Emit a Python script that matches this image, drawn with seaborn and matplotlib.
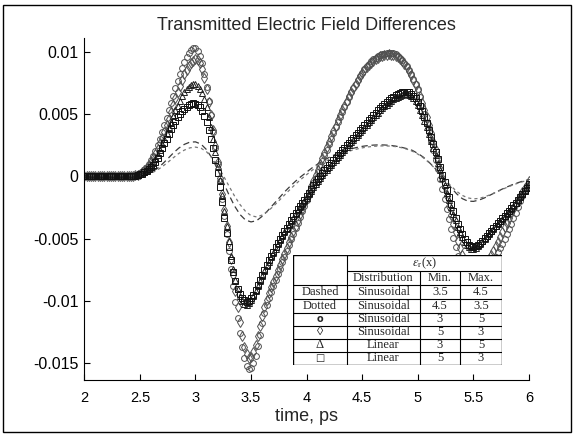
import numpy as np
import matplotlib
matplotlib.use("Agg")
import matplotlib.pyplot as plt
from matplotlib.patches import Rectangle
import seaborn as sns

# ---------------------------------------------------------------------------
# Data: transmitted field differences, sampled every 0.02 ps (markers) and
# every 0.05 ps (lines). Values are in units of 1e-3.
# ---------------------------------------------------------------------------
marker_time = np.round(np.linspace(2.0, 6.0, 201), 2)
line_time = np.round(np.linspace(2.0, 6.0, 81), 2)
FIELD_UNIT = 1e-3

# sinusoidal profile, min 3 / max 5 (circles)
sin_3_5 = [
    0, 0, 0, 0, 0, 0, 0, 0, 0, 0,
    0, 0, 0, 0, 0, 0, 0, 0, 0, 0,
    0.0, 0.02, 0.05, 0.09, 0.15, 0.25, 0.38, 0.55, 0.75, 1.0,
    1.3, 1.65, 2.05, 2.5, 3.0, 3.55, 4.1, 4.7, 5.3, 5.9,
    6.5, 7.1, 7.7, 8.25, 8.75, 9.2, 9.6, 9.9, 10.15, 10.3,
    10.3, 10.1, 9.7, 9.1, 8.2, 7.2, 6.1, 4.9, 3.6, 2.3,
    1.0, -0.4, -1.8, -3.2, -4.6, -6.0, -7.4, -8.8, -10.1, -11.4,
    -12.6, -13.7, -14.6, -15.2, -15.5, -15.4, -15.0, -14.4, -13.6, -12.7,
    -11.8, -10.95, -10.3, -9.75, -9.25, -8.8, -8.3, -7.85, -7.4, -6.9,
    -6.45, -6.0, -5.5, -5.05, -4.6, -4.15, -3.7, -3.25, -2.8, -2.35,
    -1.9, -1.45, -1.0, -0.55, -0.1, 0.35, 0.8, 1.25, 1.7, 2.15,
    2.6, 3.05, 3.5, 3.95, 4.4, 4.8, 5.2, 5.6, 6.0, 6.4,
    6.75, 7.1, 7.45, 7.75, 8.05, 8.35, 8.6, 8.85, 9.05, 9.25,
    9.4, 9.55, 9.65, 9.75, 9.82, 9.87, 9.9, 9.92, 9.92, 9.88,
    9.8, 9.68, 9.52, 9.33, 9.1, 8.85, 8.55, 8.2, 7.85, 7.45,
    7.0, 6.35, 5.7, 5.0, 4.3, 3.6, 2.85, 2.1, 1.35, 0.6,
    -0.2, -1.0, -1.8, -2.6, -3.4, -4.2, -4.95, -5.7, -6.4, -7.0,
    -7.5, -7.9, -8.2, -8.4, -8.5, -8.55, -8.55, -8.5, -8.4, -8.2,
    -8.0, -7.75, -7.45, -7.15, -6.8, -6.45, -6.1, -5.75, -5.4, -5.0,
    -4.6, -4.2, -3.8, -3.35, -2.9, -2.45, -2.0, -1.6, -1.2, -0.8,
    -0.45,
]

# sinusoidal profile, min 5 / max 3 (diamonds)
sin_5_3 = [
    0, 0, 0, 0, 0, 0, 0, 0, 0, 0,
    0, 0, 0, 0, 0, 0, 0, 0, 0, 0,
    0.0, 0.02, 0.05, 0.09, 0.14, 0.22, 0.33, 0.48, 0.66, 0.88,
    1.15, 1.45, 1.8, 2.2, 2.65, 3.1, 3.6, 4.1, 4.65, 5.2,
    5.75, 6.3, 6.8, 7.3, 7.75, 8.2, 8.55, 8.85, 9.1, 9.3,
    9.4, 9.35, 9.1, 8.6, 7.9, 7.0, 6.0, 4.9, 3.7, 2.45,
    1.2, -0.1, -1.4, -2.7, -4.0, -5.3, -6.6, -7.9, -9.2, -10.5,
    -11.7, -12.8, -13.7, -14.3, -14.6, -14.5, -14.1, -13.5, -12.8, -12.0,
    -11.2, -10.5, -9.9, -9.4, -8.9, -8.45, -8.0, -7.55, -7.1, -6.65,
    -6.2, -5.75, -5.3, -4.85, -4.4, -3.95, -3.5, -3.05, -2.6, -2.15,
    -1.7, -1.25, -0.8, -0.35, 0.1, 0.55, 1.0, 1.45, 1.9, 2.35,
    2.8, 3.22, 3.65, 4.07, 4.5, 4.9, 5.3, 5.7, 6.08, 6.45,
    6.8, 7.14, 7.46, 7.76, 8.04, 8.3, 8.54, 8.76, 8.96, 9.14,
    9.3, 9.43, 9.55, 9.64, 9.71, 9.76, 9.79, 9.8, 9.79, 9.75,
    9.68, 9.58, 9.44, 9.26, 9.04, 8.78, 8.48, 8.14, 7.77, 7.37,
    6.93, 6.45, 5.93, 5.37, 4.77, 4.14, 3.48, 2.8, 2.1, 1.38,
    0.64, -0.1, -0.85, -1.6, -2.35, -3.08, -3.8, -4.5, -5.15, -5.75,
    -6.3, -6.78, -7.18, -7.5, -7.72, -7.85, -7.9, -7.85, -7.72, -7.52,
    -7.27, -6.98, -6.66, -6.32, -5.97, -5.6, -5.23, -4.85, -4.47, -4.09,
    -3.71, -3.34, -2.97, -2.6, -2.25, -1.9, -1.57, -1.25, -0.95, -0.67,
    -0.4,
]

# linear profile, min 3 / max 5 (triangles)
lin_3_5 = [
    0, 0, 0, 0, 0, 0, 0, 0, 0, 0,
    0, 0, 0, 0, 0, 0, 0, 0, 0, 0,
    0.0, 0.02, 0.04, 0.08, 0.12, 0.18, 0.26, 0.36, 0.5, 0.66,
    0.86, 1.1, 1.4, 1.75, 2.15, 2.6, 3.05, 3.5, 3.95, 4.4,
    4.85, 5.3, 5.7, 6.1, 6.45, 6.75, 7.0, 7.2, 7.33, 7.4,
    7.4, 7.3, 7.05, 6.7, 6.2, 5.55, 4.8, 3.95, 3.0, 1.95,
    0.85, -0.3, -1.5, -2.75, -4.0, -5.2, -6.35, -7.4, -8.3, -9.05,
    -9.6, -10.0, -10.25, -10.3, -10.2, -9.95, -9.6, -9.2, -8.8, -8.4,
    -8.0, -7.6, -7.2, -6.85, -6.5, -6.15, -5.8, -5.45, -5.1, -4.8,
    -4.5, -4.2, -3.9, -3.6, -3.3, -3.0, -2.7, -2.45, -2.2, -1.95,
    -1.7, -1.42, -1.15, -0.88, -0.62, -0.37, -0.13, 0.1, 0.32, 0.53,
    0.75, 0.95, 1.15, 1.35, 1.55, 1.75, 1.95, 2.15, 2.35, 2.55,
    2.75, 2.95, 3.15, 3.35, 3.55, 3.75, 3.95, 4.15, 4.35, 4.55,
    4.75, 4.95, 5.12, 5.3, 5.47, 5.63, 5.78, 5.93, 6.07, 6.2,
    6.32, 6.42, 6.5, 6.56, 6.6, 6.6, 6.55, 6.44, 6.27, 6.03,
    5.72, 5.35, 4.93, 4.47, 3.97, 3.44, 2.88, 2.3, 1.71, 1.11,
    0.5, -0.1, -0.7, -1.3, -1.88, -2.45, -3.0, -3.53, -4.03, -4.48,
    -4.9, -5.25, -5.52, -5.7, -5.8, -5.8, -5.72, -5.58, -5.4, -5.2,
    -5.0, -4.8, -4.6, -4.4, -4.2, -4.0, -3.8, -3.6, -3.4, -3.2,
    -3.0, -2.8, -2.58, -2.35, -2.1, -1.85, -1.6, -1.35, -1.1, -0.85,
    -0.6,
]

# linear profile, min 5 / max 3 (squares)
lin_5_3 = [
    0, 0, 0, 0, 0, 0, 0, 0, 0, 0,
    0, 0, 0, 0, 0, 0, 0, 0, 0, 0,
    0.0, 0.02, 0.04, 0.07, 0.11, 0.16, 0.23, 0.32, 0.44, 0.58,
    0.75, 0.95, 1.2, 1.5, 1.85, 2.25, 2.65, 3.05, 3.45, 3.8,
    4.15, 4.45, 4.75, 5.0, 5.25, 5.45, 5.6, 5.75, 5.85, 5.9,
    5.85, 5.75, 5.55, 5.25, 4.85, 4.35, 3.75, 3.05, 2.25, 1.35,
    0.3, -0.85, -2.05, -3.3, -4.55, -5.7, -6.75, -7.65, -8.4, -9.0,
    -9.45, -9.75, -9.95, -10.05, -10.0, -9.8, -9.5, -9.1, -8.7, -8.3,
    -7.9, -7.5, -7.1, -6.75, -6.4, -6.05, -5.7, -5.35, -5.0, -4.7,
    -4.4, -4.1, -3.8, -3.5, -3.2, -2.9, -2.6, -2.35, -2.1, -1.85,
    -1.6, -1.3, -1.0, -0.72, -0.45, -0.2, 0.04, 0.27, 0.49, 0.7,
    0.9, 1.1, 1.3, 1.5, 1.7, 1.9, 2.1, 2.3, 2.5, 2.7,
    2.9, 3.1, 3.3, 3.5, 3.7, 3.9, 4.1, 4.3, 4.5, 4.7,
    4.9, 5.1, 5.3, 5.48, 5.65, 5.82, 5.98, 6.13, 6.27, 6.4,
    6.52, 6.62, 6.7, 6.76, 6.8, 6.8, 6.76, 6.66, 6.5, 6.28,
    6.0, 5.65, 5.25, 4.8, 4.3, 3.76, 3.2, 2.61, 2.0, 1.38,
    0.76, 0.14, -0.48, -1.08, -1.67, -2.24, -2.79, -3.31, -3.8, -4.25,
    -4.65, -5.0, -5.28, -5.48, -5.6, -5.63, -5.58, -5.47, -5.32, -5.15,
    -4.96, -4.77, -4.57, -4.37, -4.17, -3.97, -3.77, -3.57, -3.37, -3.17,
    -2.96, -2.75, -2.54, -2.32, -2.1, -1.87, -1.63, -1.39, -1.14, -0.89,
    -0.63,
]

# sinusoidal profile, min 3.5 / max 4.5 (dashed line)
sin_35_45 = [
    0, 0, 0, 0, 0, 0, 0, 0, 0,
    0.02, 0.06, 0.15, 0.32, 0.6, 0.98, 1.42, 1.88, 2.28, 2.58,
    2.76, 2.78, 2.6, 2.15, 1.45, 0.55, -0.45, -1.45, -2.35, -3.05,
    -3.5, -3.65, -3.55, -3.2, -2.75, -2.25, -1.75, -1.25, -0.8, -0.38,
    0.0, 0.35, 0.7, 1.0, 1.28, 1.52, 1.74, 1.92, 2.08, 2.22,
    2.33, 2.42, 2.48, 2.52, 2.54, 2.53, 2.5, 2.44, 2.35, 2.24,
    2.1, 1.85, 1.55, 1.15, 0.7, 0.2, -0.35, -0.9, -1.4, -1.78,
    -1.98, -2.0, -1.9, -1.72, -1.5, -1.27, -1.05, -0.85, -0.66, -0.5,
    -0.36, -0.25,
]

# sinusoidal profile, min 4.5 / max 3.5 (dotted line)
sin_45_35 = [
    0, 0, 0, 0, 0, 0, 0, 0, 0,
    0.02, 0.05, 0.12, 0.26, 0.48, 0.78, 1.13, 1.5, 1.85, 2.12,
    2.3, 2.36, 2.27, 1.98, 1.5, 0.85, 0.08, -0.75, -1.55, -2.25,
    -2.8, -3.15, -3.25, -3.1, -2.8, -2.4, -1.95, -1.5, -1.05, -0.62,
    -0.22, 0.15, 0.5, 0.82, 1.1, 1.36, 1.58, 1.77, 1.94, 2.08,
    2.2, 2.3, 2.37, 2.42, 2.45, 2.46, 2.44, 2.4, 2.32, 2.2,
    2.03, 1.8, 1.5, 1.12, 0.68, 0.2, -0.3, -0.78, -1.2, -1.52,
    -1.72, -1.8, -1.76, -1.64, -1.47, -1.28, -1.08, -0.88, -0.7, -0.54,
    -0.4, -0.3,
]

x_ticks = [2, 2.5, 3, 3.5, 4, 4.5, 5, 5.5, 6]
x_tick_labels = ["2", "2.5", "3", "3.5", "4", "4.5", "5", "5.5", "6"]
y_ticks = [0.01, 0.005, 0, -0.005, -0.01, -0.015]
y_tick_labels = ["0.01", "0.005", "0", "-0.005", "-0.01", "-0.015"]

table_head = ["Distribution", "Min.", "Max."]
table_rows = [
    ["Dashed", "Sinusoidal", "3.5", "4.5"],
    ["Dotted", "Sinusoidal", "4.5", "3.5"],
    ["o", "Sinusoidal", "3", "5"],
    ["\u25ca", "Sinusoidal", "5", "3"],
    ["\u0394", "Linear", "3", "5"],
    ["\u25a1", "Linear", "5", "3"],
]

# ---------------------------------------------------------------------------
sns.set_style("ticks")
plt.rcParams["font.family"] = ["Liberation Sans", "DejaVu Sans"]
plt.rcParams["mathtext.fontset"] = "stix"

W, H = 576, 436
fig = plt.figure(figsize=(W / 100, H / 100), dpi=100, facecolor="white")
ax = fig.add_axes([84.3 / W, 1 - 380 / H, (529 - 84.3) / W, (380 - 38.3) / H])

line_kw = dict(ax=ax, estimator=None, sort=False, legend=False)
sns.lineplot(x=line_time, y=np.array(sin_35_45) * FIELD_UNIT, color="#3a3a3a",
             linewidth=0.9, dashes=False, linestyle=(0, (5, 3)), **line_kw)
sns.lineplot(x=line_time, y=np.array(sin_45_35) * FIELD_UNIT, color="#777777",
             linewidth=0.9, dashes=False, linestyle=(0, (2.5, 2.5)), **line_kw)

marker_series = [
    (sin_3_5, "o", 4.2, "#505050"),
    (sin_5_3, "d", 4.6, "#505050"),
    (lin_3_5, "^", 4.2, "#202020"),
    (lin_5_3, "s", 3.8, "#111111"),
]
for vals, mk, ms, col in marker_series:
    sns.lineplot(x=marker_time, y=np.array(vals) * FIELD_UNIT, color=col,
                 linestyle="", marker=mk, markersize=ms,
                 markerfacecolor="none", markeredgecolor=col,
                 markeredgewidth=0.7, **line_kw)

ax.set_xlim(2, 6)
ax.set_ylim(-0.01635, 0.0111)
ax.set_xticks(x_ticks)
ax.set_xticklabels(x_tick_labels)
ax.set_yticks(y_ticks)
ax.set_yticklabels(y_tick_labels)
ax.tick_params(direction="in", length=4, width=0.8, colors="black")
ax.tick_params(axis="x", labelsize=10.5, pad=8)
ax.tick_params(axis="y", labelsize=11.5, pad=4)
for side in ("top", "right"):
    ax.spines[side].set_visible(False)
for side in ("left", "bottom"):
    ax.spines[side].set_linewidth(0.8)
    ax.spines[side].set_color("black")
ax.set_xlabel("time, ps", fontsize=13, labelpad=2)
ax.set_ylabel("")
ax.set_title("Transmitted Electric Field Differences", fontsize=13, pad=6)

# outer frame
fig.patches.append(Rectangle((3 / W, 1 - 432 / H), 568 / W, 427 / H,
                             transform=fig.transFigure, fill=False,
                             edgecolor="black", linewidth=1.0))

# profile table
tx0, ty0, tx1, ty1 = 293.3, 255, 502, 365
tab = fig.add_axes([tx0 / W, 1 - ty1 / H, (tx1 - tx0) / W, (ty1 - ty0) / H])
tw, th = tx1 - tx0, ty1 - ty0
tab.set_xlim(0, tw)
tab.set_ylim(th, 0)
tab.axis("off")
col_edges = [0, 53.4, 126.7, 166.7, tw]
row_edges = [0, 16, 30, 44, 57.5, 70.75, 83.75, 96.75, th]
tab.add_patch(Rectangle((0, 0), tw, th, facecolor="white", edgecolor="black",
                        linewidth=1.0, zorder=1))
lk = dict(color="black", linewidth=0.8, zorder=2)
tab.plot([col_edges[1], col_edges[1]], [0, th], **lk)
for cx in col_edges[2:4]:
    tab.plot([cx, cx], [row_edges[1], th], **lk)
tab.plot([col_edges[1], tw], [row_edges[1], row_edges[1]], **lk)
for ry in row_edges[2:-1]:
    tab.plot([0, tw], [ry, ry], **lk)

serif = ["Liberation Serif", "DejaVu Serif"]
tk = dict(ha="center", va="center", fontsize=9, family=serif, zorder=3)
tab.text((col_edges[1] + tw) / 2, row_edges[1] / 2 + 0.5,
         r"$\varepsilon_{\mathrm{r}}$(x)", **tk)
for j, label in enumerate(table_head):
    tab.text((col_edges[j + 1] + col_edges[j + 2]) / 2,
             (row_edges[1] + row_edges[2]) / 2, label, **tk)
for i, row in enumerate(table_rows):
    yc = (row_edges[i + 2] + row_edges[i + 3]) / 2
    for j, label in enumerate(row):
        kw = dict(tk)
        if i >= 2 and j == 0:
            kw["family"] = ["DejaVu Sans"] if label in ("o", "\u25a1") else serif
            kw["fontweight"] = "bold" if label in ("o", "\u25a1") else "normal"
            kw["fontsize"] = 7 if label in ("o", "\u25a1") else 9
        tab.text((col_edges[j] + col_edges[j + 1]) / 2, yc, label, **kw)

fig.savefig("out.png", dpi=100, facecolor="white")
